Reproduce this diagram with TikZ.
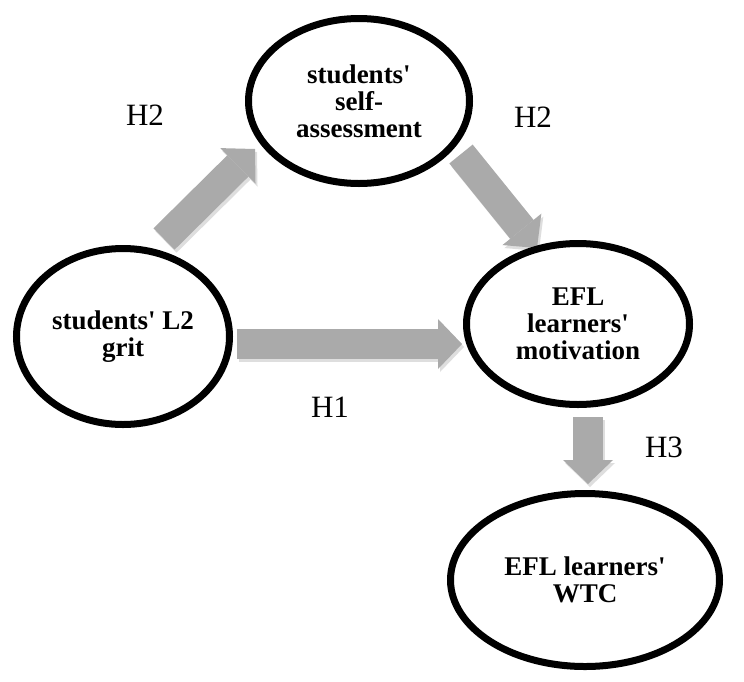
\documentclass[tikz,border=0pt]{standalone}
\usepackage{fontspec}
\setmainfont{Liberation Serif}
\usetikzlibrary{shapes.geometric,arrows.meta}
\definecolor{arrowgray}{RGB}{170,170,170}
\newcommand{\sq}{\textquotesingle}
\tikzset{
  ell/.style={ellipse, draw=black, line width=7pt, inner sep=0pt, align=center,
    font=\bfseries\fontsize{27}{27}\selectfont},
  hlabel/.style={font=\fontsize{31}{33}\selectfont, inner sep=0pt},
  fat/.style={draw=arrowgray, line width=30pt,
    -{Triangle[length=24pt,width=50pt,line width=0pt]}},
  fatshadow/.style={draw=black!13, line width=30pt,
    -{Triangle[length=24pt,width=50pt,line width=0pt]}},
}
\begin{document}
\begin{tikzpicture}[x=1pt,y=-1pt]
\useasboundingbox (0,0) rectangle (744,681);
% connector end points
\coordinate (h2lT) at (164,239);
\coordinate (h2lP) at (255,149);
\coordinate (h2rT) at (461,154);
\coordinate (h2rP) at (537,248);
\coordinate (h1T) at (237,344);
\coordinate (h1P) at (462,344);
\coordinate (h3T) at (588,417);
\coordinate (h3P) at (588,484);
% arrow shadows
\draw[fatshadow] ([shift={(2,3)}]h2lT) -- ([shift={(2,3)}]h2lP);
\draw[fatshadow] ([shift={(2,3)}]h2rT) -- ([shift={(2,3)}]h2rP);
\draw[fatshadow] ([shift={(2,3)}]h1T) -- ([shift={(2,3)}]h1P);
\draw[fatshadow] ([shift={(2,3)}]h3T) -- ([shift={(2,3)}]h3P);
% arrows
\draw[fat] (h2lT) -- (h2lP);
\draw[fat] (h2rT) -- (h2rP);
\draw[fat] (h1T) -- (h1P);
\draw[fat] (h3T) -- (h3P);
% ellipses
\node[ell, minimum width=221pt, minimum height=165pt] (self) at (359,101) {students\sq\\self-\\assessment};
\node[ell, minimum width=213pt, minimum height=176pt] (grit) at (123,336.5) {students\sq{} L2\\grit};
\node[ell, minimum width=223pt, minimum height=161pt] (motiv) at (578,324) {EFL\\learners\sq\\motivation};
\node[ell, minimum width=269pt, minimum height=173pt] (wtc) at (585,580) {EFL learners\sq\\WTC};
% labels
\node[hlabel] (lh2a) at (145,115) {H2};
\node[hlabel] (lh2b) at (533,117) {H2};
\node[hlabel] (lh1) at (330,407) {H1};
\node[hlabel] (lh3) at (664,447) {H3};
\end{tikzpicture}
\end{document}
